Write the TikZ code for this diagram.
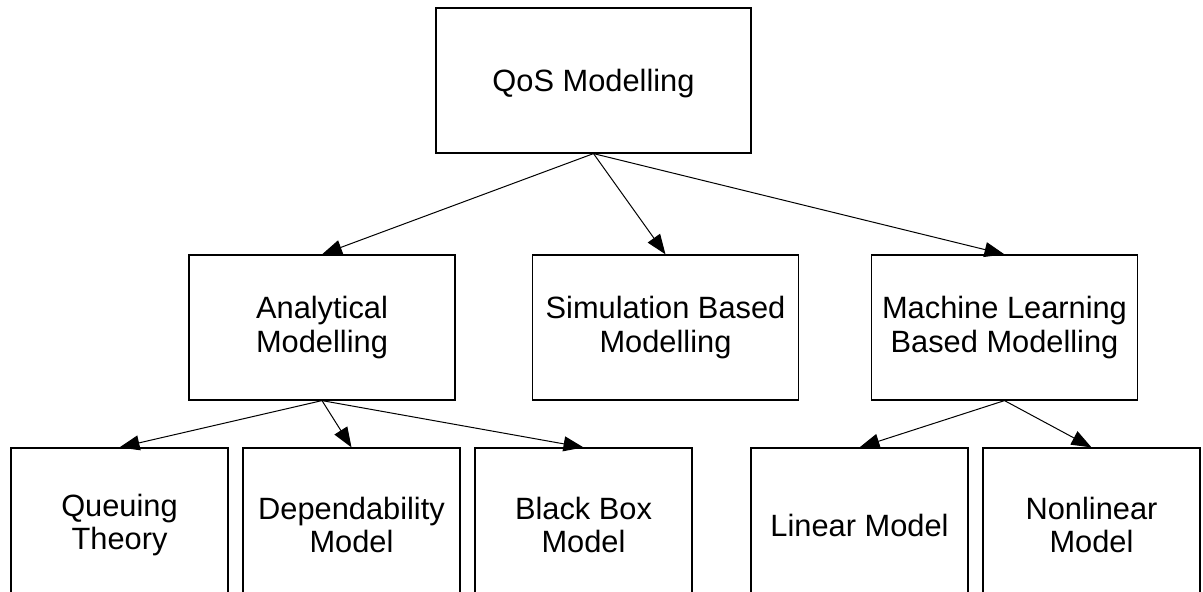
\documentclass[tikz,border=0pt]{standalone}
\usepackage{fontspec}
\setmainfont{Liberation Sans}
\usetikzlibrary{arrows.meta}
\begin{document}
\begin{tikzpicture}[x=0.5pt,y=-0.5pt,
  box/.style={draw=black,line width=0.6pt,inner sep=0pt,minimum height=72.5pt,align=center,font=\fontsize{15.4}{16.8}\selectfont},
  tall/.style={minimum height=77pt},
  wbig/.style={minimum width=157.5pt},
  wmid/.style={minimum width=133pt},
  wsml/.style={minimum width=108.5pt},
  arr/.style={line width=0.5pt,-{Triangle[length=10pt,width=7.5pt]}}]
\useasboundingbox (0,0) rectangle (1203,592);
\node[box,wbig,text height=14.2pt,text depth=3.2pt] (qos) at (593.5,80.5) {QoS Modelling};
\node[box,wmid] (ana) at (322,327.5) {Analytical\\Modelling};
\node[box,wmid] (sim) at (665.5,327.5) {Simulation Based\\Modelling};
\node[box,wmid] (ml) at (1004.5,327.5) {Machine Learning\\Based Modelling};
\node[box,wsml,tall] (que) at (119.5,525) {Queuing\\Theory};
\node[box,wsml,tall] (dep) at (351.5,525) {Dependability\\Model};
\node[box,wsml,tall] (bb) at (583.5,525) {Black Box\\Model};
\node[box,wsml,tall] (lin) at (859.5,525) {Linear Model};
\node[box,wsml,tall] (non) at (1091.5,525) {Nonlinear\\Model};
\draw[arr] (qos.south) -- (ana.north);
\draw[arr] (qos.south) -- (sim.north);
\draw[arr] (qos.south) -- (ml.north);
\draw[arr] (ana.south) -- (que.north);
\draw[arr] (ana.south) -- (dep.north);
\draw[arr] (ana.south) -- (bb.north);
\draw[arr] (ml.south) -- (lin.north);
\draw[arr] (ml.south) -- (non.north);
\end{tikzpicture}
\end{document}
